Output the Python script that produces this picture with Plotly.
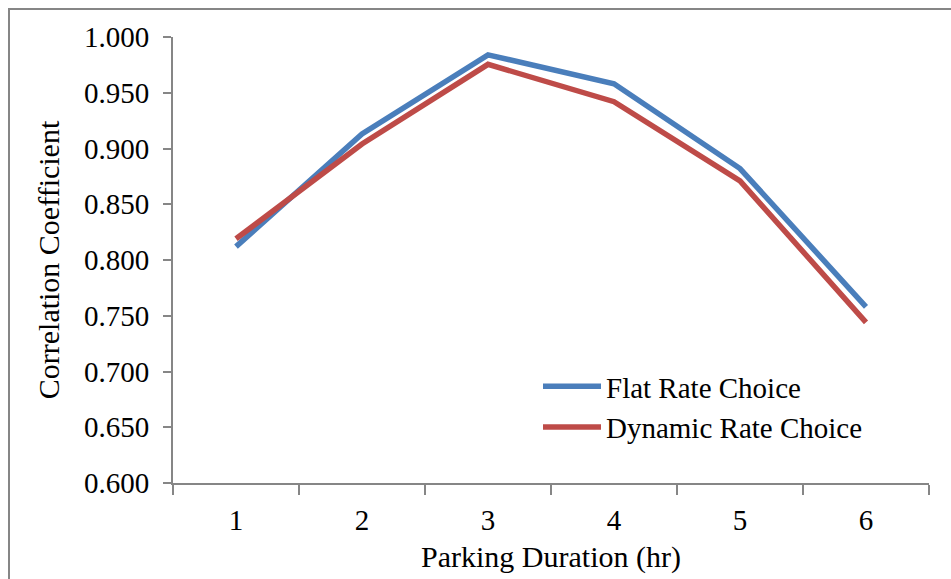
import plotly.graph_objects as go

categories = ["1", "2", "3", "4", "5", "6"]
flat_rate = [0.812, 0.913, 0.984, 0.958, 0.882, 0.758]
dynamic_rate = [0.819, 0.904, 0.9755, 0.942, 0.871, 0.744]
y_ticks = [0.600, 0.650, 0.700, 0.750, 0.800, 0.850, 0.900, 0.950, 1.000]

FONT = "Liberation Serif"
AXIS_GRAY = "#868686"

W, H = 951, 579
ML, MR, MT, MB = 173, 22, 37, 96
PW, PH = W - ML - MR, H - MT - MB

def px_to_paper_x(px):
    return (px - ML) / PW

def px_to_paper_y(py):
    return (H - MB - py) / PH

fig = go.Figure()
fig.add_trace(go.Scatter(x=categories, y=flat_rate, mode="lines", name="Flat Rate Choice",
                         line=dict(color="#4A7EBB", width=5.5)))
fig.add_trace(go.Scatter(x=categories, y=dynamic_rate, mode="lines", name="Dynamic Rate Choice",
                         line=dict(color="#BE4B48", width=5.5)))

fig.update_layout(
    width=W, height=H,
    margin=dict(l=ML, r=MR, t=MT, b=MB, pad=0),
    paper_bgcolor="white", plot_bgcolor="white",
    font=dict(family=FONT, size=29, color="black"),
    hovermode=False,
    legend=dict(
        x=px_to_paper_x(538), y=px_to_paper_y(361), xanchor="left", yanchor="top",
        bgcolor="rgba(0,0,0,0)", font=dict(family=FONT, size=29),
        itemwidth=58, tracegroupgap=0,
    ),
    xaxis=dict(
        type="category", tickson="boundaries", range=[-0.5, 5.5],
        showline=True, linecolor=AXIS_GRAY, linewidth=2,
        ticks="outside", ticklen=10, tickcolor=AXIS_GRAY, tickwidth=2,
        showgrid=False, zeroline=False,
        tickfont=dict(family=FONT, size=29), ticklabelstandoff=10,
        title=dict(text="Parking Duration (hr)", font=dict(family=FONT, size=30), standoff=11),
    ),
    yaxis=dict(
        range=[0.6, 1.0], tickvals=y_ticks, tickformat=".3f",
        showline=True, linecolor=AXIS_GRAY, linewidth=2,
        ticks="outside", ticklen=8, tickcolor=AXIS_GRAY, tickwidth=2,
        showgrid=False, zeroline=False,
        tickfont=dict(family=FONT, size=29), ticklabelstandoff=8,
        title=dict(text="Correlation Coefficient", font=dict(family=FONT, size=30), standoff=15),
    ),
    shapes=[dict(
        type="rect", xref="paper", yref="paper",
        x0=px_to_paper_x(9), x1=px_to_paper_x(975),
        y0=px_to_paper_y(600), y1=px_to_paper_y(9),
        line=dict(color=AXIS_GRAY, width=2), fillcolor="rgba(0,0,0,0)", layer="below",
    )],
)

fig.write_html("out.html")
